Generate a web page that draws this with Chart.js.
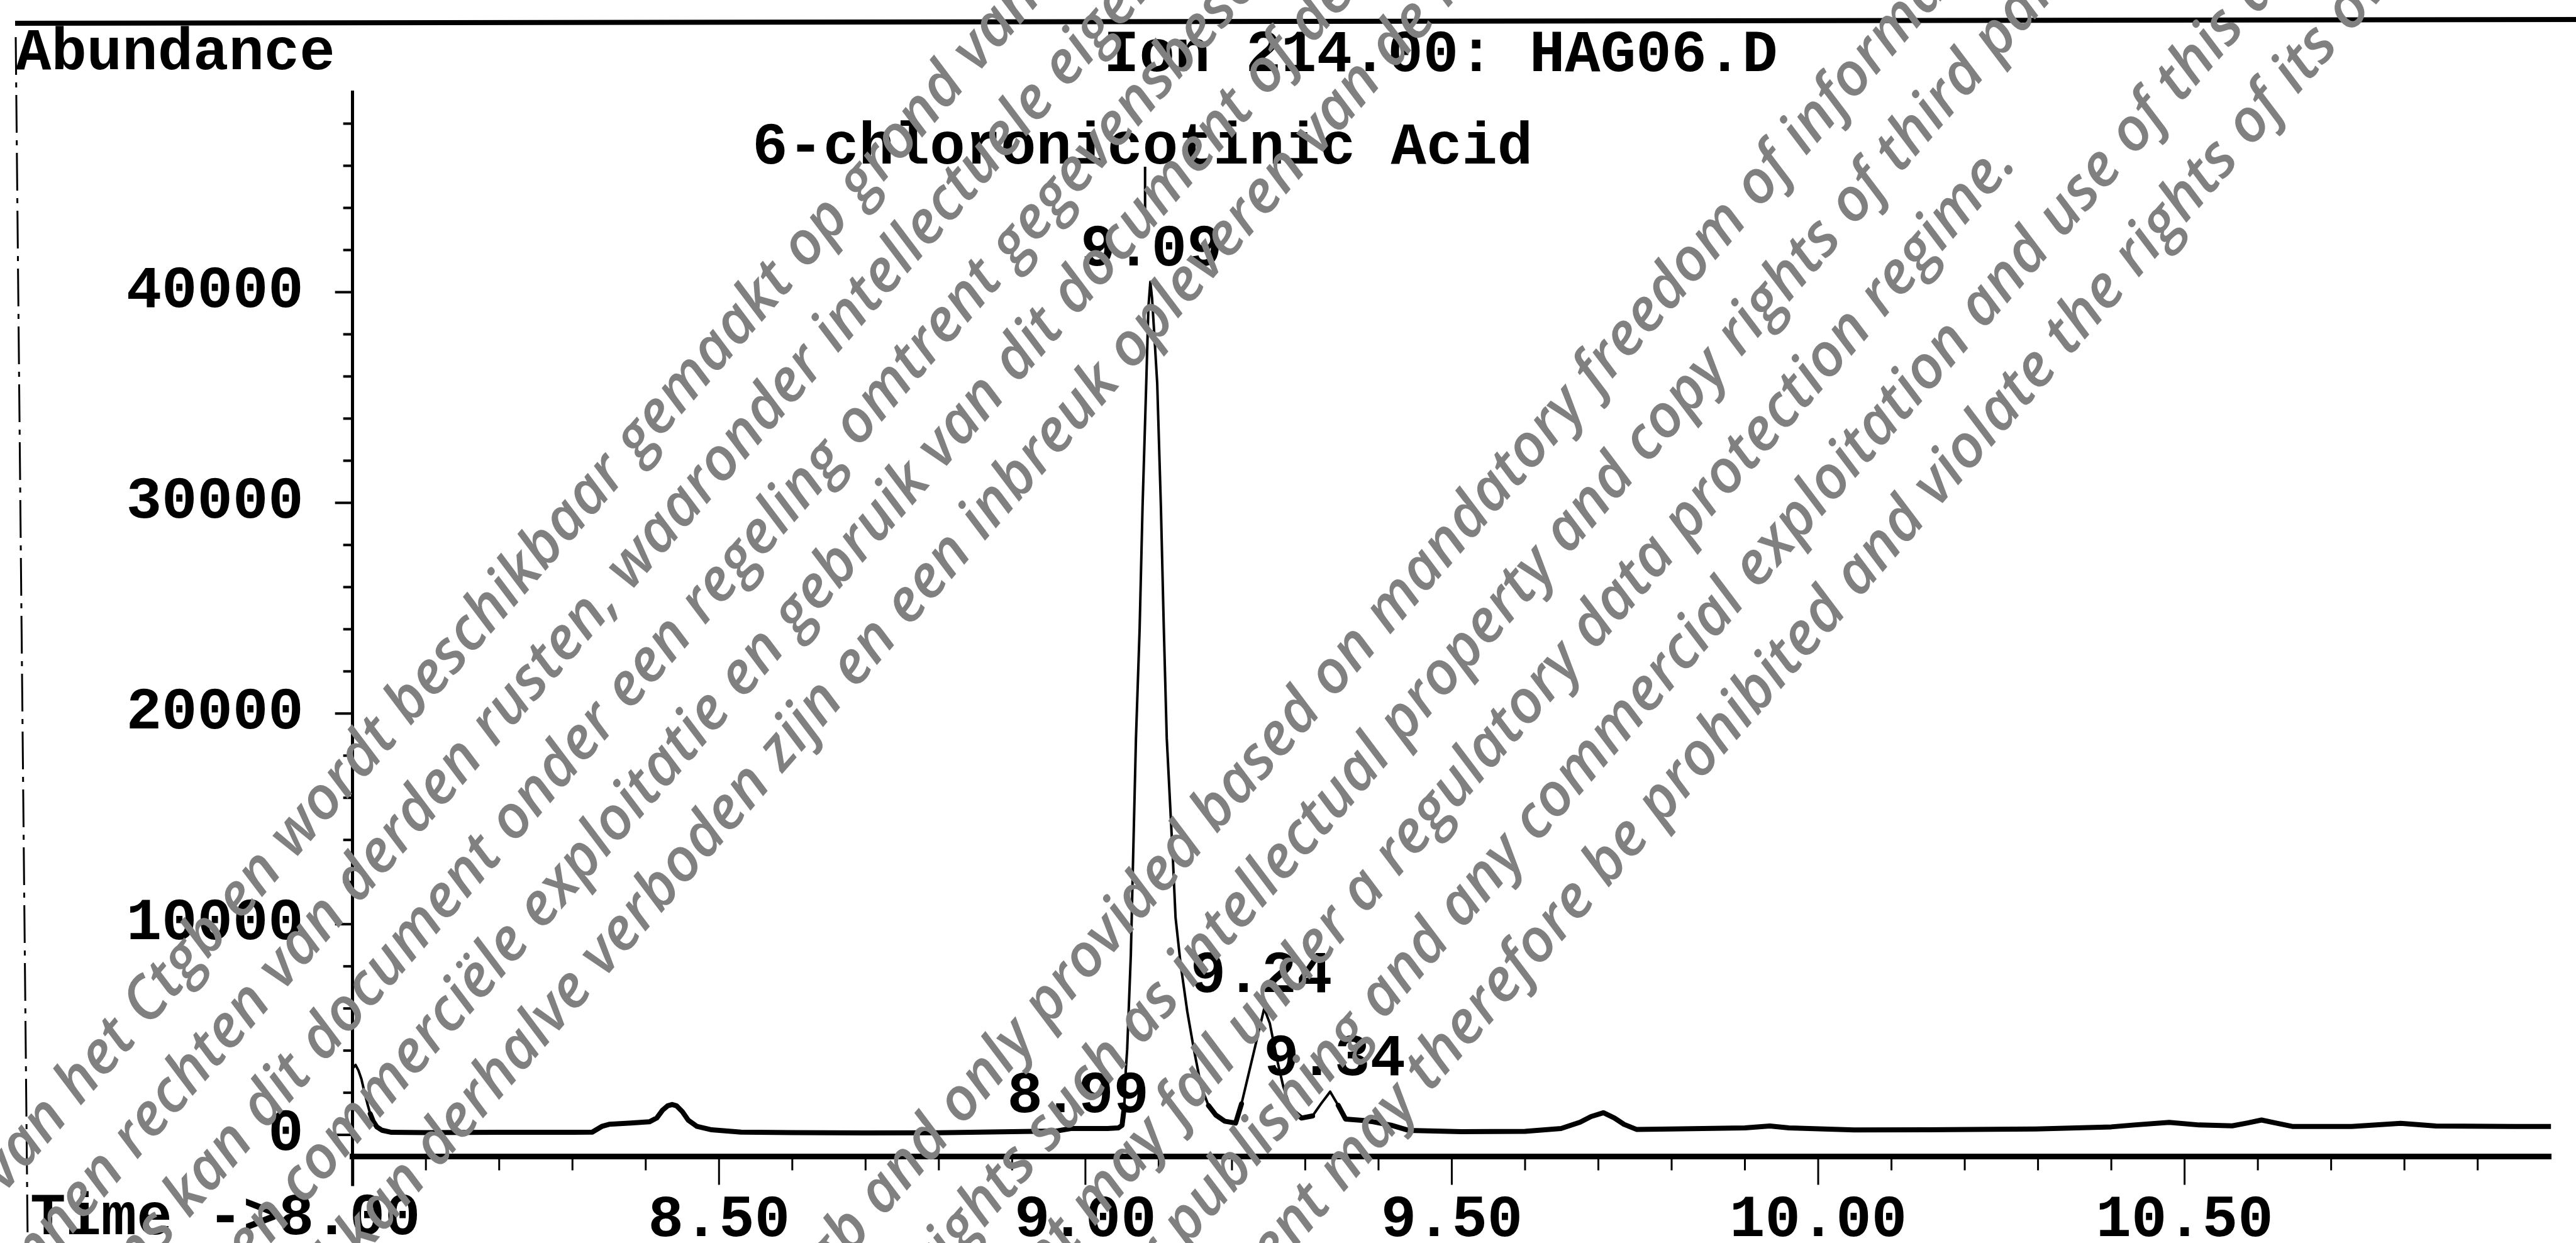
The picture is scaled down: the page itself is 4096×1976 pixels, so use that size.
<!DOCTYPE html>
<html lang="en">
<head>
  <meta charset="UTF-8" />
  <title>Ion 214.00: HAG06.D</title>
  <script src="https://cdn.jsdelivr.net/npm/chart.js"></script>
  <style>
    html, body { margin: 0; padding: 0; background: #fff; }
    #wrap { width: 4096px; height: 1976px; position: relative; }
  </style>
</head>
<body>
  <div id="wrap"><canvas id="chromChart"></canvas></div>

  <script>
    // ---- values ----
    const retentionTimes = [
      8.000, 8.004, 8.008, 8.012, 8.016, 8.020, 8.024, 8.028, 8.033, 8.040,
      8.053, 8.100, 8.200, 8.300, 8.327, 8.340, 8.350, 8.380, 8.405, 8.415,
      8.423, 8.430, 8.436, 8.442, 8.450, 8.458, 8.470, 8.490, 8.530, 8.600,
      8.700, 8.800, 8.900, 8.960, 8.980, 9.000, 9.030, 9.045, 9.050, 9.053,
      9.055, 9.057, 9.062, 9.065, 9.069, 9.074, 9.078, 9.083, 9.086, 9.0886,
      9.091, 9.094, 9.098, 9.103, 9.107, 9.111, 9.1195, 9.123, 9.130, 9.139,
      9.148, 9.158, 9.168, 9.178, 9.190, 9.205, 9.213, 9.244, 9.2516, 9.262,
      9.270, 9.2805, 9.295, 9.310, 9.322, 9.334, 9.345, 9.355, 9.380, 9.393,
      9.417, 9.441, 9.513, 9.600, 9.649, 9.675, 9.690, 9.707, 9.722, 9.735,
      9.752, 9.800, 9.900, 9.934, 9.960, 10.049, 10.150, 10.297, 10.400, 10.431,
      10.479, 10.520, 10.565, 10.585, 10.605, 10.625, 10.647, 10.728, 10.795, 10.843,
      10.950, 11.000
    ];
    const abundance = [
      3150, 3320, 3050, 2650, 2050, 1500, 1000, 650, 380, 220,
      120, 110, 120, 120, 130, 400, 500, 560, 620, 800,
      1175, 1380, 1440, 1380, 1100, 700, 400, 240, 130, 110,
      90, 100, 150, 180, 300, 300, 300, 330, 450, 1300,
      3000, 4060, 8550, 13000, 18840, 24030, 29840, 35660, 39300, 40490,
      39700, 38000, 35660, 29840, 24030, 18840, 13000, 10320, 8090, 5860,
      4060, 2290, 1390, 940, 650, 560, 1470, 6000, 5300, 3500,
      2300, 1210, 800, 900, 1500, 2050, 1400, 750, 680, 620,
      460, 215, 150, 170, 300, 600, 870, 1050, 800, 500,
      260, 280, 330, 420, 330, 235, 240, 280, 380, 470,
      590, 470, 430, 560, 705, 560, 400, 400, 550, 420,
      400, 400
    ];
    const xTickLabels = [8.5, 9.0, 9.5, 10.0, 10.5];
    const yTickLabels = [0, 10000, 20000, 30000, 40000];
    const peakTimes = [8.99, 9.09, 9.24, 9.34];
    const peakTexts = ["8.99", "9.09", "9.24", "9.34"];
    const compoundName = "6-chloronicotinic Acid";
    const plotTitle = "Ion 214.00: HAG06.D";

    const MONO = 'bold 94px "Liberation Mono", "Courier New", monospace';

    // watermark lines: [text before anchor, text from anchor, along, across]
    const WM_ANGLE = 49 * Math.PI / 180;
    const wmLines = [
      ["Dit document is in het bezit gekomen van het Ctgb en wordt ", "beschikbaar gemaakt op grond van de Wet open overheid.", -444, 1250],
      ["Op dit document kunnen rechten van ", "derden rusten, waaronder intellectuele eigendomsrechten.", -712, 1374],
      ["gegevens. Tevens kan dit ", "document onder een regeling omtrent gegevensbescherming vallen.", -938, 1498],
      ["Openbaarmaking, verspreiding en commerciële ", "exploitatie en gebruik van dit document of de inhoud", -552, 1622],
      ["Openbaarmaking of de inhoud kan derhalve ", "verboden zijn en een inbreuk opleveren van de rechten van de eigenaar.", -543, 1746],
      ["This document is published by the Ctgb and only provided based on mandatory ", "freedom of information law.", 1193, 2330],
      ["It may be subject to rights such as intellectual property and ", "copy rights of third parties.", 1161, 2462],
      ["Furthermore, this document may fall under a regulatory ", "data protection regime.", 882, 2593],
      ["Any distribution, reproduction or publishing and any commercial ", "exploitation and use of this document or its contents", 1125, 2725],
      ["Any use of this document may therefore be prohibited and ", "violate the rights of its owner.", 1412, 2856]
    ];

    const decorPlugin = {
      id: "decor",
      afterDraw(chart) {
        const ctx = chart.ctx;
        const xs = chart.scales.x, ys = chart.scales.y;
        const area = chart.chartArea;
        ctx.save();
        ctx.strokeStyle = "#000";
        ctx.fillStyle = "#000";

        // y axis continues a little below the time axis
        ctx.lineWidth = 5;
        ctx.beginPath();
        ctx.moveTo(area.left, area.bottom);
        ctx.lineTo(area.left, area.bottom + 47);
        ctx.stroke();

        // y tick marks: minor every 2000, major every 10000
        ctx.lineWidth = 4;
        for (let v = 0; v <= 48000; v += 2000) {
          const y = ys.getPixelForValue(v);
          const len = v % 10000 === 0 ? 28 : 15;
          ctx.beginPath();
          ctx.moveTo(area.left, y);
          ctx.lineTo(area.left - len, y);
          ctx.stroke();
        }

        // x tick marks: minor every 0.1, major every 0.5
        ctx.lineWidth = 3;
        for (let i = 1; i <= 29; i++) {
          const t = 8 + i / 10;
          const x = xs.getPixelForValue(t);
          const len = i % 5 === 0 ? 45 : 22;
          ctx.beginPath();
          ctx.moveTo(x, area.bottom);
          ctx.lineTo(x, area.bottom + len);
          ctx.stroke();
        }

        // texts
        ctx.font = MONO;
        ctx.textBaseline = "alphabetic";
        ctx.textAlign = "left";
        ctx.fillText("Abundance", 25, 110);
        ctx.fillText(plotTitle, 1755, 113);
        ctx.fillText("Time ->8.00", 48, 1962);

        // peak retention time labels
        ctx.textAlign = "center";
        let mainApex = null;
        peakTimes.forEach((t, i) => {
          let top = 0;
          retentionTimes.forEach((rt, j) => {
            if (Math.abs(rt - t) <= 0.012) top = Math.max(top, abundance[j]);
          });
          const px = xs.getPixelForValue(t);
          const py = ys.getPixelForValue(top);
          ctx.fillText(peakTexts[i], px, py - 26);
          if (peakTexts[i] === "9.09") mainApex = { x: px, y: py };
        });

        // compound name with its connector
        if (mainApex) {
          ctx.fillText(compoundName, mainApex.x - 14, mainApex.y - 188);
          ctx.lineWidth = 4;
          ctx.beginPath();
          ctx.moveTo(mainApex.x - 10, mainApex.y - 183);
          ctx.lineTo(mainApex.x - 10, mainApex.y - 111);
          ctx.stroke();
        }

        // page frame: thick rule at top, broken rule at left
        ctx.lineWidth = 8;
        ctx.beginPath();
        ctx.moveTo(24, 37);
        ctx.lineTo(4096, 31);
        ctx.stroke();
        ctx.lineWidth = 3;
        ctx.setLineDash([60, 12, 8, 12]);
        ctx.beginPath();
        ctx.moveTo(25, 59);
        ctx.lineTo(44, 1976);
        ctx.stroke();
        ctx.setLineDash([]);

        // watermark
        ctx.fillStyle = "rgb(128,128,128)";
        ctx.font = 'italic 600 95px "Open Sans", "Noto Sans", sans-serif';
        ctx.textBaseline = "alphabetic";
        const ux = Math.cos(WM_ANGLE), uy = -Math.sin(WM_ANGLE);
        const nx = Math.sin(WM_ANGLE), ny = Math.cos(WM_ANGLE);
        wmLines.forEach(([pre, post, a, b]) => {
          const px = a * ux + b * nx;
          const py = a * uy + b * ny;
          ctx.save();
          ctx.translate(px, py);
          ctx.rotate(-WM_ANGLE);
          ctx.textAlign = "right";
          ctx.fillText(pre, 0, 0);
          ctx.textAlign = "left";
          ctx.fillText(post, 0, 0);
          ctx.restore();
        });

        ctx.restore();
      }
    };

    new Chart(document.getElementById("chromChart"), {
      type: "line",
      data: {
        datasets: [{
          data: retentionTimes.map((t, i) => ({ x: t, y: abundance[i] })),
          borderColor: "#000",
          borderWidth: 4,
          borderJoinStyle: "round",
          borderCapStyle: "round",
          pointRadius: 0,
          tension: 0,
          fill: false,
          segment: {
            borderWidth: c => Math.max(c.p0.parsed.y, c.p1.parsed.y) < 1500 ? 8 : 4
          }
        }]
      },
      options: {
        responsive: true,
        maintainAspectRatio: false,
        animation: false,
        devicePixelRatio: 1,
        layout: { padding: { left: 0, right: 39.8, top: 146.3, bottom: 0 } },
        plugins: { legend: { display: false }, tooltip: { enabled: false } },
        scales: {
          x: {
            type: "linear",
            min: 8,
            max: 11,
            afterFit: s => { s.height = 137.5; },
            afterBuildTicks: s => { s.ticks = xTickLabels.map(v => ({ value: v })); },
            grid: { display: false },
            border: { display: true, color: "#000", width: 9 },
            ticks: {
              color: "#000",
              font: { family: '"Liberation Mono", monospace', size: 94, weight: "bold" },
              padding: 38,
              autoSkip: false,
              maxRotation: 0,
              minRotation: 0,
              callback: v => Number(v).toFixed(2)
            }
          },
          y: {
            min: -1027,
            max: 49500,
            afterFit: s => { s.width = 560.7; },
            afterBuildTicks: s => { s.ticks = yTickLabels.map(v => ({ value: v })); },
            grid: { display: false },
            border: { display: true, color: "#000", width: 5 },
            ticks: {
              color: "#000",
              font: { family: '"Liberation Mono", monospace', size: 94, weight: "bold" },
              padding: 70,
              autoSkip: false,
              callback: v => String(v)
            }
          }
        }
      },
      plugins: [decorPlugin]
    });
  </script>
</body>
</html>
